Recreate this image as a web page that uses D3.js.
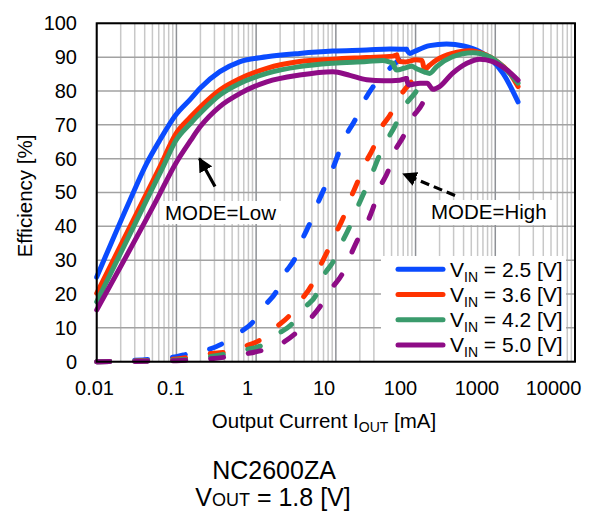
<!DOCTYPE html>
<style>
    body { margin: 0; background: #fff; }
    text { font-family: "Liberation Sans", Arial, sans-serif; fill: #000; }
</style>
<svg width="604" height="512"></svg>
<script src="https://d3js.org/d3.v7.min.js"></script>
<script>
    // tick values
    var xTicks = [0.01, 0.1, 1, 10, 100, 1000, 10000];
    var yTicks = [0, 10, 20, 30, 40, 50, 60, 70, 80, 90, 100];

    var series = ["2.5", "3.6", "4.2", "5.0"];
    var colors = ["#0a4bff", "#ff3300", "#3a9b6c", "#8e0c86"];

    // MODE=Low, solid
    var lowData = [
        [[0.01,25],[0.0262,47.8],[0.0424,58.6],[0.062,65.5],[0.098,72.9],[0.15,77.6],[0.198,80.8],[0.35,85.7],[0.63,88.7],[1.36,90.1],[3.5,91.1],[9.2,91.8],[24.4,92.1],[47.8,92.4],[77,92.3]],
        [[0.01,20.2],[0.0385,47.8],[0.062,57.6],[0.098,67.3],[0.15,72.3],[0.198,75.2],[0.35,80.3],[0.63,83.7],[1.36,86.7],[3.5,88.7],[9.2,89.4],[24.4,89.9],[52,90.3],[58,90.6]],
        [[0.01,17.7],[0.0424,47.8],[0.068,57.6],[0.098,65.3],[0.15,70.4],[0.198,73.4],[0.35,78.8],[0.63,82.3],[1.36,85.2],[3.5,87.2],[9.2,88.2],[24.4,88.7],[39,89],[52,88.2]],
        [[0.01,15.3],[0.0565,47.8],[0.098,58.6],[0.15,65.3],[0.198,69.4],[0.35,75.4],[0.63,79.3],[1.36,82.7],[3.5,84.7],[9.2,85.7],[15,84.6],[24.4,83.3],[40,83],[63,83.2],[77,83.7]]
    ];

    // MODE=High, dashed part
    var highDash = [
        [[0.01,0],[0.03,0.4],[0.1,1.5],[0.14,2.3],[0.24,3.4],[0.39,5.5],[0.61,8.5],[0.91,11.7],[1.3,16.7],[1.78,20.6],[2.31,26.2],[3.08,30.6],[3.77,36],[4.74,41],[5.8,46.3],[7.1,51],[9,56.6],[10.7,61.3],[13.1,66.4],[17.4,71.4],[21.9,76.4],[29.2,81.2],[41.4,85.3],[62,89.2]],
        [[0.01,0],[0.03,0.2],[0.1,0.8],[0.24,2.3],[0.43,2.9],[0.69,4.4],[1.12,6.4],[1.73,10],[2.59,13.5],[3.66,18.2],[4.88,22.3],[6.15,27.6],[7.75,32.4],[10,38],[12.3,42.4],[15.1,48],[18.5,52.8],[23.2,58.5],[29.3,63],[35.9,68.5],[47.9,72.9],[62.1,78],[85.3,82.3],[120,85.8]],
        [[0.01,0],[0.1,0.5],[0.24,1.4],[0.43,2.3],[0.69,3.4],[1.19,4.9],[1.79,7.9],[2.77,11],[4.11,16.1],[5.65,19.7],[7.11,25.6],[9.22,29.5],[11.96,35.3],[14.65,39.5],[18.5,45.4],[22.5,49.9],[28.4,55.5],[33.8,60],[43.9,65.5],[55.3,69.7],[69.7,74.9],[98.6,79.4],[140,84.8]],
        [[0.01,0],[0.1,0.3],[0.24,0.8],[0.43,1.4],[0.73,2.3],[1.21,3.4],[2.11,5.5],[3.16,8.5],[4.75,12.6],[6.52,16.7],[8.96,21.8],[12,25.9],[15.1,31.2],[19,36.3],[24.6,41],[29.3,45.4],[35.9,51.6],[45.2,56.3],[53.7,61.7],[69.7,66.4],[90.4,72],[120.8,76.1],[145,80.5]]
    ];

    // MODE=High, solid part at heavy load
    var highSolid = [
        [[77,92.3],[85,91.1],[95,91.6],[150,93.4],[245,93.9],[400,93.3],[640,91.6],[850,89.7],[1250,85.2],[1930,76.8]],
        [[58,90.6],[63,88.7],[75,88.6],[100,89.2],[120,89],[130,86.4],[150,87.6],[184,89.2],[290,91.1],[470,91.9],[770,90.6],[1050,88.7],[1530,85.2],[1930,81.3]],
        [[52,88.2],[58,86.2],[73,86.8],[89,87.3],[107,86.4],[130,85.6],[150,85.2],[184,87.2],[290,90.1],[520,91.3],[850,90.1],[1250,87.2],[1930,82.3]],
        [[77,83.7],[82,81.8],[114,82.3],[140,82.3],[165,80.5],[200,81.3],[290,85.2],[440,88.2],[640,89.4],[930,88.7],[1400,86.2],[1930,83.2]]
    ];

    var svg = d3.select("svg");
    var pL = 96.7, pR = 575, pT = 23.3, pB = 361.7;

    var x = d3.scaleLog().domain([0.01, 10000]).range([pL, pR]);
    var xLab = d3.scaleLog().domain([0.01, 10000]).range([94, 553]);
    var y = d3.scaleLinear().domain([0, 100]).range([pB, pT]);

    // grid
    var minor = [];
    xTicks.slice(0, -1).forEach(function(d) {
        for (var k = 2; k < 10; k++) minor.push(d * k);
    });
    var grid = svg.append("g");
    grid.selectAll(".minor").data(minor).enter().append("line")
        .attr("x1", function(d) { return x(d); }).attr("x2", function(d) { return x(d); })
        .attr("y1", pT).attr("y2", pB)
        .attr("stroke", "#c8c8c8").attr("stroke-width", 1.5);
    grid.selectAll(".hz").data(yTicks).enter().append("line")
        .attr("x1", pL).attr("x2", pR)
        .attr("y1", function(d) { return y(d); }).attr("y2", function(d) { return y(d); })
        .attr("stroke", "#a2a2a2").attr("stroke-width", 1.5);
    grid.selectAll(".major").data(xTicks).enter().append("line")
        .attr("x1", function(d) { return x(d); }).attr("x2", function(d) { return x(d); })
        .attr("y1", pT).attr("y2", pB)
        .attr("stroke", "#8e9196").attr("stroke-width", 1.5);

    var line = d3.line()
        .x(function(d) { return x(d[0]); })
        .y(function(d) { return y(d[1]); })
        .curve(d3.curveMonotoneX);

    var curves = svg.append("g").attr("fill", "none").attr("stroke-width", 5).attr("stroke-linecap", "round");
    series.forEach(function(s, i) {
        curves.append("path").attr("d", line(highDash[i])).attr("stroke", colors[i])
            .attr("stroke-dasharray", "13,25");
    });
    series.forEach(function(s, i) {
        curves.append("path").attr("d", line(lowData[i])).attr("stroke", colors[i]);
        curves.append("path").attr("d", line(highSolid[i])).attr("stroke", colors[i]);
    });

    // axes
    svg.append("g")
        .attr("transform", "translate(0,376)")
        .call(d3.axisBottom(xLab).tickValues(xTicks).tickSize(0).tickPadding(5).tickFormat(function(d) { return String(d); }))
        .call(function(g) { g.select(".domain").remove(); })
        .selectAll("text").style("font-size", "20px").attr("font-family", null);
    svg.append("g")
        .attr("transform", "translate(77,0)")
        .call(d3.axisLeft(y).tickValues(yTicks).tickSize(0).tickPadding(0))
        .call(function(g) { g.select(".domain").remove(); })
        .selectAll("text").style("font-size", "20px").attr("font-family", null);

    // annotations
    var marker = svg.append("defs").append("marker")
        .attr("id", "head").attr("viewBox", "0 0 10 10").attr("refX", 9).attr("refY", 5)
        .attr("markerWidth", 4.5).attr("markerHeight", 4.5).attr("markerUnits", "strokeWidth")
        .attr("orient", "auto");
    marker.append("path").attr("d", "M0,0L10,5L0,10z").attr("fill", "#000");

    svg.append("line").attr("x1", 215).attr("y1", 186.5).attr("x2", 199.5).attr("y2", 158.5)
        .attr("stroke", "#000").attr("stroke-width", 3.2).attr("marker-end", "url(#head)");
    svg.append("line").attr("x1", 455).attr("y1", 195.5).attr("x2", 403.5).attr("y2", 174)
        .attr("stroke", "#000").attr("stroke-width", 3.2).attr("stroke-dasharray", "9,5")
        .attr("marker-end", "url(#head)");

    svg.append("rect").attr("x", 160).attr("y", 201).attr("width", 121).attr("height", 23).attr("fill", "#fff");
    svg.append("text").attr("x", 165).attr("y", 220).style("font-size", "20.5px").text("MODE=Low");
    svg.append("rect").attr("x", 427).attr("y", 200).attr("width", 126).attr("height", 25).attr("fill", "#fff");
    svg.append("text").attr("x", 431).attr("y", 218.5).style("font-size", "20.5px").text("MODE=High");

    // legend
    var lg = svg.append("g");
    lg.append("rect").attr("x", 381).attr("y", 256).attr("width", 185).attr("height", 105).attr("fill", "#fff");
    series.forEach(function(s, i) {
        var ly = 269.3 + i * 25.2;
        lg.append("line").attr("x1", 398).attr("x2", 443).attr("y1", ly).attr("y2", ly)
            .attr("stroke", colors[i]).attr("stroke-width", 5).attr("stroke-linecap", "round");
        var t = lg.append("text").attr("x", 450).attr("y", ly + 7.5).style("font-size", "21px");
        t.append("tspan").text("V");
        t.append("tspan").attr("dy", 5).style("font-size", "14px").text("IN");
        t.append("tspan").attr("dy", -5).text(" = " + s + " [V]");
    });

    // frame
    svg.append("rect").attr("x", pL).attr("y", pT).attr("width", pR - pL).attr("height", pB - pT)
        .attr("fill", "none").attr("stroke", "#000").attr("stroke-width", 2);

    // axis titles
    var xt = svg.append("text").attr("x", 324).attr("y", 428).attr("text-anchor", "middle").style("font-size", "20.5px");
    xt.append("tspan").text("Output Current I");
    xt.append("tspan").attr("dy", 4).style("font-size", "14px").text("OUT");
    xt.append("tspan").attr("dy", -4).text(" [mA]");
    svg.append("text").attr("transform", "translate(32,196) rotate(-90)").attr("text-anchor", "middle")
        .style("font-size", "20.5px").text("Efficiency [%]");

    svg.append("text").attr("x", 274).attr("y", 479).attr("text-anchor", "middle").style("font-size", "25px").text("NC2600ZA");
    var vt = svg.append("text").attr("x", 273).attr("y", 506).attr("text-anchor", "middle").style("font-size", "25px");
    vt.append("tspan").text("V");
    vt.append("tspan").style("font-size", "18px").text("OUT");
    vt.append("tspan").text(" = 1.8 [V]");
</script>
